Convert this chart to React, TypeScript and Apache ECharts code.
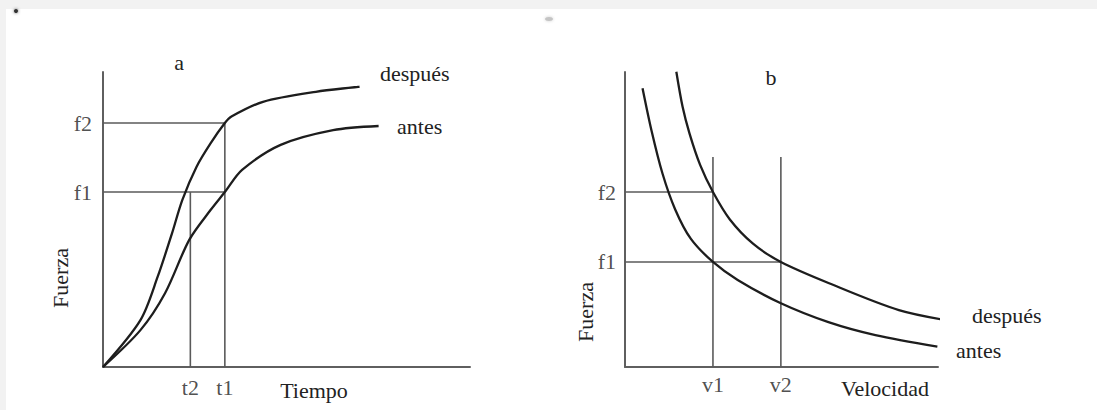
import React, { useEffect, useRef } from "react";
import * as echarts from "echarts";

// Panel a: force vs. time (before / after)
const A_F1 = 59.3;
const A_F2 = 82.7;
const A_T2 = 23.8;
const A_T1 = 33.2;
const aDespues: number[][] = [
  [0, 0], [10.2, 15.9], [14.9, 30.6], [18.8, 45.3], [21.6, 56.6], [25.5, 67.9],
  [29.3, 75.8], [A_T1, A_F2], [35.0, 84.9], [43.6, 89.9], [58.0, 93.3], [69.9, 95.0],
];
const aAntes: number[][] = [
  [0, 0], [10.2, 12.5], [16.9, 25.0], [23.5, 43.1], [29.3, 53.2], [A_T1, A_F1],
  [37.9, 66.8], [48.4, 75.3], [62.7, 80.3], [75.1, 81.7],
];

// Panel b: force vs. velocity (before / after)
const B_F1 = 35.6;
const B_F2 = 59.3;
const B_V1 = 28.1;
const B_V2 = 49.8;
const B_VTOP = 71.2;
const bDespues: number[][] = [
  [16.4, 100.1], [18.4, 88.2], [20.6, 79.2], [24.0, 68.5], [B_V1, B_F2], [33.5, 50.0],
  [40.9, 41.8], [B_V2, B_F1], [65.2, 28.4], [87.5, 19.3], [105.3, 15.4],
];
const bAntes: number[][] = [
  [5.6, 94.5], [8.5, 80.0], [12.0, 65.5], [16.0, 53.5], [21.0, 43.5], [B_V1, B_F1],
  [36.0, 29.5], [B_V2, 21.6], [65.0, 15.2], [80.0, 10.8], [99.8, 6.9],
];

const yTicksA = [
  { name: "f2", value: A_F2 },
  { name: "f1", value: A_F1 },
];
const xTicksA = [
  { name: "t2", value: A_T2 },
  { name: "t1", value: A_T1 },
];
const yTicksB = [
  { name: "f2", value: B_F2 },
  { name: "f1", value: B_F1 },
];
const xTicksB = [
  { name: "v1", value: B_V1 },
  { name: "v2", value: B_V2 },
];

const FONT = "'Liberation Serif', 'Times New Roman', serif";
const TEXT = "#222222";
const CURVE = "#1d1d1d";
const GUIDE = "#5a5a5a";
const FS = 22;

function curve(data: number[][], idx: number) {
  return {
    type: "line",
    xAxisIndex: idx,
    yAxisIndex: idx,
    data,
    smooth: 0.3,
    symbol: "none",
    clip: false,
    lineStyle: { color: CURVE, width: 2.3 },
    z: 5,
  };
}

function guide(data: number[][], idx: number) {
  return {
    type: "line",
    xAxisIndex: idx,
    yAxisIndex: idx,
    data,
    symbol: "none",
    clip: false,
    lineStyle: { color: GUIDE, width: 1.6 },
    z: 3,
  };
}

function tickLabels(
  items: { name: string; value: number }[],
  idx: number,
  onY: boolean,
  distance: number
) {
  return {
    type: "scatter",
    xAxisIndex: idx,
    yAxisIndex: idx,
    symbolSize: 0,
    clip: false,
    silent: true,
    data: items.map((t) => ({ name: t.name, value: onY ? [0, t.value] : [t.value, 0] })),
    label: {
      show: true,
      formatter: "{b}",
      position: onY ? "left" : "bottom",
      distance,
      fontFamily: FONT,
      fontSize: FS,
      color: TEXT,
    },
  };
}

function txt(x: number, y: number, s: string, align = "center", rotation = 0) {
  return {
    type: "text",
    x,
    y,
    rotation,
    style: {
      text: s,
      fontFamily: FONT,
      fontSize: FS,
      fill: TEXT,
      align,
      verticalAlign: "middle",
    },
    z: 10,
  };
}

export default function App() {
  const ref = useRef<HTMLDivElement>(null);

  useEffect(() => {
    if (!ref.current) return;
    const chart = echarts.init(ref.current, undefined, { renderer: "svg" });
    const axisLine = { show: true, onZero: false, lineStyle: { color: "#5f5f5f", width: 2 } };
    const hiddenAxis = {
      type: "value",
      min: 0,
      max: 100,
      axisLine,
      axisTick: { show: false },
      axisLabel: { show: false },
      splitLine: { show: false },
    };
    chart.setOption({
      animation: false,
      backgroundColor: "#f2f2f2",
      grid: [
        { left: 103, top: 72, width: 367, height: 295 },
        { left: 625, top: 72, width: 313, height: 295 },
      ],
      xAxis: [
        { ...hiddenAxis, gridIndex: 0 },
        { ...hiddenAxis, gridIndex: 1 },
      ],
      yAxis: [
        { ...hiddenAxis, gridIndex: 0 },
        { ...hiddenAxis, gridIndex: 1 },
      ],
      graphic: [
        {
          type: "rect",
          shape: { x: 6, y: 9, width: 1091, height: 401 },
          style: { fill: "#ffffff" },
          z: -10,
        },
        {
          type: "circle",
          shape: { cx: 16, cy: 11, r: 2 },
          style: { fill: "#333", shadowBlur: 3, shadowColor: "#555" },
          z: 1,
        },
        {
          type: "ellipse",
          shape: { cx: 549, cy: 19, rx: 4, ry: 2 },
          style: { fill: "#c4c4c4", shadowBlur: 3, shadowColor: "#ccc" },
          z: 1,
        },
        txt(179, 62, "a"),
        txt(771, 77, "b"),
        txt(380, 73, "después", "left"),
        txt(397, 126, "antes", "left"),
        txt(972, 315, "después", "left"),
        txt(956, 350, "antes", "left"),
        txt(314, 390, "Tiempo"),
        txt(885, 388, "Velocidad"),
        txt(60, 278, "Fuerza", "center", Math.PI / 2),
        txt(585, 312, "Fuerza", "center", Math.PI / 2),
      ],
      series: [
        guide([[0, A_F2], [A_T1, A_F2]], 0),
        guide([[0, A_F1], [A_T1, A_F1]], 0),
        guide([[A_T2, 0], [A_T2, A_F1]], 0),
        guide([[A_T1, 0], [A_T1, A_F2]], 0),
        curve(aDespues, 0),
        curve(aAntes, 0),
        tickLabels(yTicksA, 0, true, 11),
        tickLabels(xTicksA, 0, false, 9),
        guide([[0, B_F2], [B_V1, B_F2]], 1),
        guide([[0, B_F1], [B_V2, B_F1]], 1),
        guide([[B_V1, 0], [B_V1, B_VTOP]], 1),
        guide([[B_V2, 0], [B_V2, B_VTOP]], 1),
        curve(bDespues, 1),
        curve(bAntes, 1),
        tickLabels(yTicksB, 1, true, 9),
        tickLabels(xTicksB, 1, false, 6),
      ],
    });
    return () => chart.dispose();
  }, []);

  return (
    <div
      ref={ref}
      style={{ position: "absolute", left: 0, top: 0, width: 1097, height: 410 }}
    />
  );
}
